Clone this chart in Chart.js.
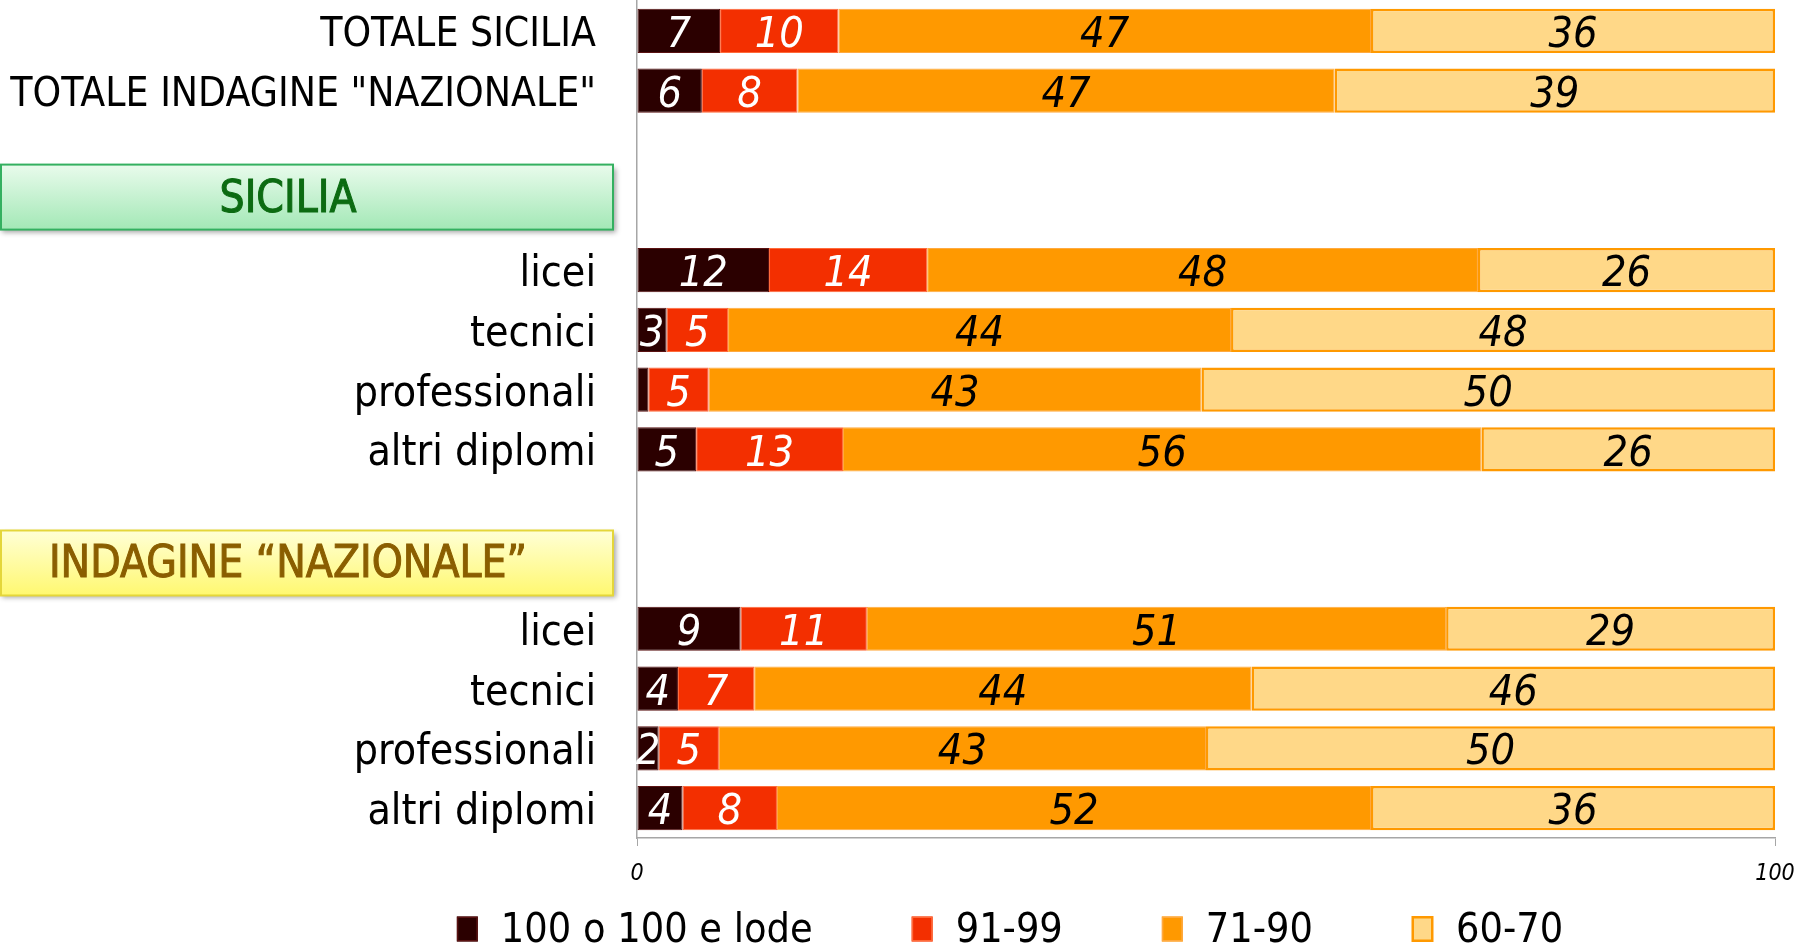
<!DOCTYPE html>
<html>
<head>
<meta charset="utf-8">
<script src="https://cdn.jsdelivr.net/npm/chart.js@4/dist/chart.umd.min.js"></script>
<style>
html,body{margin:0;padding:0;background:#fff;}
#wrap{width:1802px;height:943px;position:relative;}
</style>
</head>
<body>
<div id="wrap"><canvas id="c" width="1802" height="943"></canvas></div>
<script>
// ---- data ----
const categories = [
  'TOTALE SICILIA', 'TOTALE INDAGINE "NAZIONALE"', '', '',
  'licei', 'tecnici', 'professionali', 'altri diplomi', '', '',
  'licei', 'tecnici', 'professionali', 'altri diplomi'
];
const seriesNames = ['100 o 100 e lode', '91-99', '71-90', '60-70'];
const lode   = [7.3, 5.7, null, null, 11.6, 2.6, 1.0, 5.2, null, null, 9.1, 3.6, 1.9, 4.0];
const s91_99 = [10.4, 8.4, null, null, 13.9, 5.4, 5.3, 12.9, null, null, 11.1, 6.7, 5.3, 8.3];
const s71_90 = [46.8, 47.2, null, null, 48.4, 44.2, 43.3, 56.1, null, null, 50.9, 43.7, 42.8, 52.2];
const s60_70 = [35.5, 38.7, null, null, 26.1, 47.8, 50.4, 25.8, null, null, 28.9, 46.0, 50.0, 35.5];
const xTicks = [0, 100];
const groupHeaders = ['SICILIA', 'INDAGINE \u201CNAZIONALE\u201D'];
const groupHeaderRows = [3, 9];

const fills   = ['#2B0000', '#F32F00', '#FF9900', '#FFD888'];
const borders = ['#5A1212', '#FF6A3A', '#FFAA40', '#FF9900'];
const bWidths = [1, 1, 1, 2.5];
const labelColors = ['#FFFFFF', '#FFFFFF', '#000000', '#000000'];
const seriesData = [lode, s91_99, s71_90, s60_70];

const FONT = "'DejaVu Sans Condensed', 'DejaVu Sans', sans-serif";

// ---- plugins ----
const valueLabels = {
  id: 'valueLabels',
  afterDatasetsDraw(chart) {
    const ctx = chart.ctx;
    ctx.save();
    ctx.font = "italic 43px " + FONT;
    ctx.textAlign = 'center';
    ctx.textBaseline = 'middle';
    chart.data.datasets.forEach((ds, di) => {
      const meta = chart.getDatasetMeta(di);
      meta.data.forEach((el, i) => {
        const v = ds.data[i];
        if (v == null || v < 1.5) return;
        const p = el.getProps(['x', 'y', 'base'], true);
        ctx.fillStyle = labelColors[di];
        ctx.fillText(String(Math.round(v)), (p.x + p.base) / 2, p.y + 5);
      });
    });
    ctx.restore();
  }
};

const headersAndLegend = {
  id: 'headersAndLegend',
  afterDraw(chart) {
    const ctx = chart.ctx;
    const yScale = chart.scales.y;
    const step = yScale.getPixelForValue(1) - yScale.getPixelForValue(0);
    const offs = [-0.22, -0.1];
    const styles = [
      {top: '#E9FBEC', bot: '#A3E8B6', border: '#34B060', text: '#0C6B12'},
      {top: '#FFFFD6', bot: '#FFF870', border: '#E4D63A', text: '#8A5E00'}
    ];
    groupHeaders.forEach((txt, k) => {
      const cy = yScale.getPixelForValue(groupHeaderRows[k]) + step * offs[k];
      const h = 65, x0 = 0, w = 614;
      const y0 = cy - h / 2;
      const st = styles[k];
      ctx.save();
      ctx.shadowColor = 'rgba(0,0,0,0.35)';
      ctx.shadowBlur = 5;
      ctx.shadowOffsetX = 2;
      ctx.shadowOffsetY = 3;
      const g = ctx.createLinearGradient(0, y0, 0, y0 + h);
      g.addColorStop(0, st.top);
      g.addColorStop(1, st.bot);
      ctx.fillStyle = g;
      ctx.fillRect(x0, y0, w, h);
      ctx.restore();
      ctx.save();
      ctx.strokeStyle = st.border;
      ctx.lineWidth = 2;
      ctx.strokeRect(x0 + 1, y0, w - 2, h);
      ctx.fillStyle = st.text;
      ctx.strokeStyle = st.text;
      ctx.lineWidth = 1;
      ctx.font = "44px " + FONT;
      ctx.textAlign = 'center';
      ctx.textBaseline = 'middle';
      ctx.fillText(txt, 288, cy + 3);
      ctx.strokeText(txt, 288, cy + 3);
      ctx.restore();
    });

    // legend
    ctx.save();
    ctx.font = "41px " + FONT;
    ctx.textBaseline = 'middle';
    const boxW = 21, boxH = 25, gapTxt = 23, gapItem = 99;
    const widths = seriesNames.map(s => ctx.measureText(s).width);
    const total = widths.reduce((a, b) => a + b, 0) + seriesNames.length * (boxW + gapTxt) + gapItem * (seriesNames.length - 1);
    let x = 1010 - total / 2;
    const cy = 929;
    seriesNames.forEach((s, i) => {
      ctx.fillStyle = fills[i];
      ctx.fillRect(x, cy - boxH / 2, boxW, boxH);
      ctx.strokeStyle = borders[i];
      ctx.lineWidth = i === 3 ? 2.5 : 1.5;
      ctx.strokeRect(x + 0.75, cy - boxH / 2 + 0.75, boxW - 1.5, boxH - 1.5);
      ctx.fillStyle = '#000';
      ctx.fillText(s, x + boxW + gapTxt, cy + 2);
      x += boxW + gapTxt + widths[i] + gapItem;
    });
    ctx.restore();
  }
};

// ---- chart ----
new Chart(document.getElementById('c'), {
  type: 'bar',
  data: {
    labels: categories,
    datasets: seriesNames.map((name, i) => ({
      label: name,
      data: seriesData[i],
      backgroundColor: fills[i],
      borderColor: borders[i],
      borderWidth: bWidths[i],
      borderSkipped: false,
      barPercentage: 0.74,
      categoryPercentage: 1.0
    }))
  },
  options: {
    indexAxis: 'y',
    responsive: false,
    animation: false,
    devicePixelRatio: 1,
    layout: {padding: {left: 0, right: 27, top: 1, bottom: 55}},
    plugins: {legend: {display: false}, tooltip: {enabled: false}},
    scales: {
      x: {
        stacked: true,
        min: 0, max: 100,
        afterBuildTicks(scale) { scale.ticks = xTicks.map(v => ({value: v})); },
        afterFit(scale) { scale.height = 50; scale.paddingLeft = 0; scale.paddingRight = 0; },
        grid: {display: true, drawOnChartArea: false, drawTicks: true, tickLength: 8, tickColor: '#A6A6A6'},
        border: {display: true, color: '#A6A6A6', width: 1.5},
        ticks: {
          color: '#000',
          padding: 14,
          maxRotation: 0,
          font: {family: FONT, size: 23, style: 'italic'}
        }
      },
      y: {
        stacked: true,
        afterFit(scale) { scale.width = 637; scale.paddingTop = 0; scale.paddingBottom = 0; },
        grid: {display: true, drawOnChartArea: false, drawTicks: false},
        border: {display: true, color: '#A6A6A6', width: 1.5},
        ticks: {
          color: '#000',
          padding: 41,
          labelOffset: 5,
          autoSkip: false,
          font: (c) => ({family: FONT, size: (c.index < 2 ? 40.5 : 42.5)})
        }
      }
    }
  },
  plugins: [valueLabels, headersAndLegend]
});
</script>
</body>
</html>
